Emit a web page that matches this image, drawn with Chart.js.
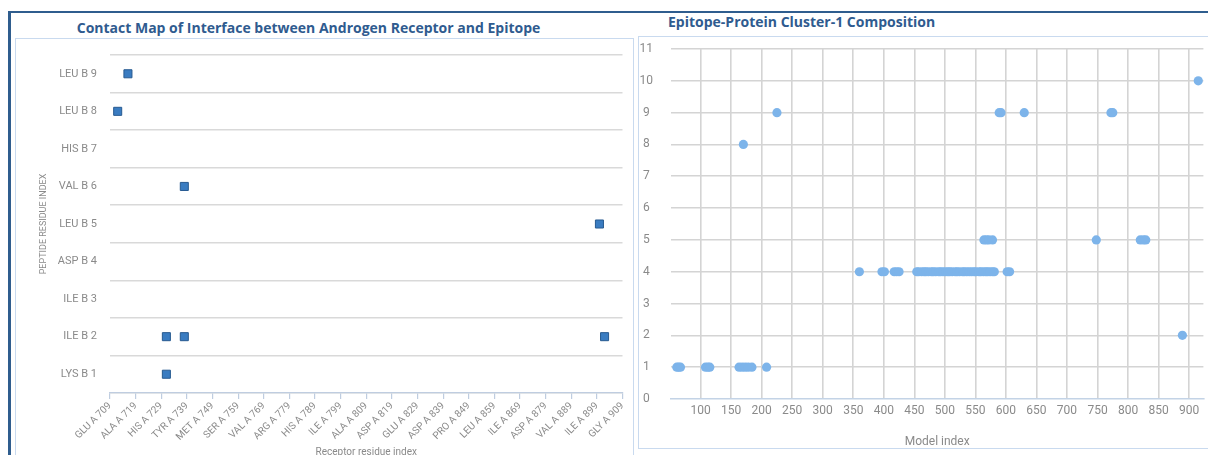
<!DOCTYPE html>
<html>
<head>
<meta charset="utf-8">
<title>Contact map and cluster composition</title>
<script src="https://cdn.jsdelivr.net/npm/chart.js@4.4.1/dist/chart.umd.min.js"></script>
<style>
  html, body { margin: 0; padding: 0; }
  body { width: 1208px; height: 455px; overflow: hidden; background: #ffffff; position: relative; }
  .rule { position: absolute; background: #2f5d8e; }
  .frame { position: absolute; border: 1px solid #c9daef; box-sizing: border-box; }
  .title { position: absolute; font-family: "Open Sans", sans-serif; font-weight: 700; font-size: 14px;
           line-height: 16px; color: #2f5b8f; white-space: nowrap; }
  canvas { position: absolute; }
</style>
</head>
<body>
<div class="rule" style="left:8px; top:11px; width:1200px; height:2px;"></div>
<div class="rule" style="left:8px; top:11px; width:3px; height:444px;"></div>
<div class="frame" style="left:15px; top:38px; width:619px; height:430px;"></div>
<div class="frame" style="left:638px; top:36px; width:580px; height:413px;"></div>
<div class="title" style="left:0; width:617px; top:20px; text-align:center;">Contact Map of Interface between Androgen Receptor and Epitope</div>
<div class="title" style="left:668px; top:14px;">Epitope-Protein Cluster-1 Composition</div>

<canvas id="contactMap" width="617" height="425" style="left:15px; top:39px;"></canvas>
<canvas id="clusterComposition" width="569" height="414" style="left:639px; top:41px;"></canvas>

<script>
// ---- Contact map: peptide residues (rows, top to bottom) ----
const peptideResidues = ['LEU B 9', 'LEU B 8', 'HIS B 7', 'VAL B 6', 'LEU B 5', 'ASP B 4', 'ILE B 3', 'ILE B 2', 'LYS B 1'];

// Receptor residue axis ticks (every 10 residues)
const receptorTickValues = [709, 719, 729, 739, 749, 759, 769, 779, 789, 799, 809, 819, 829, 839, 849, 859, 869, 879, 889, 899, 909];
const receptorTickLabels = ['GLU A 709', 'ALA A 719', 'HIS A 729', 'TYR A 739', 'MET A 749', 'SER A 759', 'VAL A 769',
  'ARG A 779', 'HIS A 789', 'ILE A 799', 'ALA A 809', 'ASP A 819', 'GLU A 829', 'ASP A 839', 'PRO A 849',
  'LEU A 859', 'ILE A 869', 'ASP A 879', 'VAL A 889', 'ILE A 899', 'GLY A 909'];

// Contacts: receptor residue number paired with peptide residue
const contactReceptor = [716, 712, 738, 900, 731, 738, 902, 731];
const contactPeptide  = ['LEU B 9', 'LEU B 8', 'VAL B 6', 'LEU B 5', 'ILE B 2', 'ILE B 2', 'ILE B 2', 'LYS B 1'];

// ---- Cluster composition: model indices found at each level ----
const modelsAtLevel1  = [61, 64, 67, 108, 112, 115, 163, 168, 173, 178, 184, 208];
const modelsAtLevel2  = [889];
const modelsAtLevel4  = [360, 397, 401, 417, 421, 425, 454, 457, 462, 466, 469, 473, 478, 481, 485, 490, 493, 497,
  501, 505, 508, 512, 517, 520, 524, 529, 532, 536, 540, 544, 548, 551, 556, 559, 563, 567, 570, 574, 578, 581, 602, 606];
const modelsAtLevel5  = [564, 568, 572, 578, 748, 820, 825, 829];
const modelsAtLevel8  = [170];
const modelsAtLevel9  = [225, 589, 592, 630, 772, 775];
const modelsAtLevel10 = [915];
const modelTickValues = [100, 150, 200, 250, 300, 350, 400, 450, 500, 550, 600, 650, 700, 750, 800, 850, 900];

const axisGrey = '#8a8a8a';
const baseFont = 'Roboto, "Open Sans", sans-serif';

// Fixed axis sizes so the plot areas sit where the frames expect them
const fixWidth = w => s => { s.width = w; s.paddingTop = 0; s.paddingBottom = 0; };
const fixHeight = h => s => { s.height = h; s.paddingLeft = 0; s.paddingRight = 0; };

// ---------- Contact map ----------
const contactPoints = contactReceptor.map((r, i) => ({ x: r, y: contactPeptide[i] }));

new Chart(document.getElementById('contactMap'), {
  type: 'scatter',
  data: {
    datasets: [{
      data: contactPoints,
      pointStyle: 'rect',
      pointRadius: 5.7,
      pointHoverRadius: 5.7,
      backgroundColor: '#3a7cc1',
      borderColor: '#285b91',
      borderWidth: 1
    }]
  },
  options: {
    responsive: false,
    animation: false,
    layout: { padding: { top: 16, right: 9.5, left: 0, bottom: 0 } },
    plugins: { legend: { display: false }, tooltip: { enabled: false } },
    scales: {
      x: {
        type: 'linear',
        min: 709,
        max: 909,
        afterBuildTicks: s => { s.ticks = receptorTickValues.map(v => ({ value: v })); },
        afterFit: fixHeight(71),
        ticks: {
          autoSkip: false,
          minRotation: 45,
          maxRotation: 45,
          padding: 1,
          color: axisGrey,
          font: { family: baseFont, size: 10 },
          callback: (v, i) => receptorTickLabels[i]
        },
        grid: { drawOnChartArea: false, drawTicks: true, tickLength: 6, color: '#bfcde0', lineWidth: 1.2 },
        border: { display: true, color: '#bfcde0', width: 1.2 },
        title: {
          display: true,
          text: 'Receptor residue index',
          color: axisGrey,
          font: { family: baseFont, size: 10 },
          padding: { top: 0, bottom: 6 }
        }
      },
      y: {
        type: 'category',
        labels: peptideResidues,
        offset: true,
        afterFit: fixWidth(95),
        grid: { offset: true, drawTicks: false, color: '#d9d9d9', lineWidth: 1.5 },
        border: { display: false },
        ticks: { padding: 13, color: axisGrey, font: { family: baseFont, size: 11 } },
        title: {
          display: true,
          text: 'PEPTIDE RESIDUE INDEX',
          color: axisGrey,
          font: { family: baseFont, size: 9 },
          padding: { top: 23, bottom: 0 }
        }
      }
    }
  }
});

// ---------- Cluster composition ----------
const levelSeries = [
  [1, modelsAtLevel1], [2, modelsAtLevel2], [4, modelsAtLevel4], [5, modelsAtLevel5],
  [8, modelsAtLevel8], [9, modelsAtLevel9], [10, modelsAtLevel10]
];
const clusterPoints = [];
levelSeries.forEach(([level, models]) => models.forEach(m => clusterPoints.push({ x: m, y: level })));

new Chart(document.getElementById('clusterComposition'), {
  type: 'scatter',
  data: {
    datasets: [{
      data: clusterPoints,
      pointRadius: 4.6,
      pointHoverRadius: 4.6,
      backgroundColor: '#7db4ea',
      borderWidth: 0
    }]
  },
  options: {
    responsive: false,
    animation: false,
    layout: { padding: { top: 8, right: 3, left: 0, bottom: 0 } },
    plugins: { legend: { display: false }, tooltip: { enabled: false } },
    scales: {
      x: {
        type: 'linear',
        min: 51.5,
        max: 923.4,
        afterBuildTicks: s => { s.ticks = modelTickValues.map(v => ({ value: v })); },
        afterFit: fixHeight(56),
        ticks: {
          autoSkip: false,
          maxRotation: 0,
          padding: 5,
          color: axisGrey,
          font: { family: baseFont, size: 12 }
        },
        grid: { drawTicks: false, color: '#d4d4d4', lineWidth: 1.6 },
        border: { display: true, color: '#c3d3e6', width: 1.5 },
        title: {
          display: true,
          text: 'Model index',
          color: axisGrey,
          font: { family: baseFont, size: 12 },
          padding: { top: 0, bottom: 6 }
        }
      },
      y: {
        type: 'linear',
        min: 0,
        max: 11,
        afterFit: fixWidth(32),
        ticks: {
          stepSize: 1,
          crossAlign: 'center',
          padding: 18,
          color: axisGrey,
          font: { family: baseFont, size: 12 }
        },
        grid: {
          drawTicks: false,
          lineWidth: 1.6,
          color: c => (c.tick && c.tick.value === 0) ? 'rgba(0,0,0,0)' : '#d4d4d4'
        },
        border: { display: false }
      }
    }
  }
});
</script>
</body>
</html>
